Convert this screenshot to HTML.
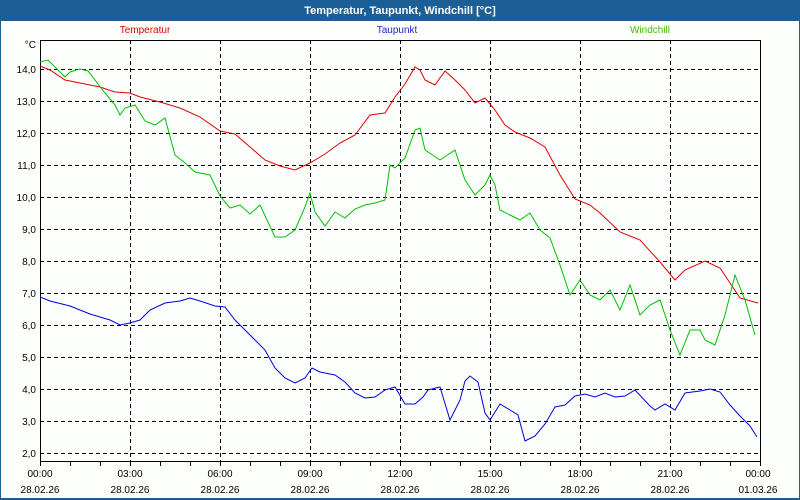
<!DOCTYPE html>
<html><head><meta charset="utf-8"><style>
body{margin:0;background:#fff}
svg{display:block;font-family:"Liberation Sans",sans-serif}
</style></head><body>
<svg width="800" height="500" xmlns="http://www.w3.org/2000/svg">
<rect x="0" y="0" width="800" height="500" fill="#1c5f97"/>
<rect x="1" y="21" width="798" height="477" fill="#fdfffd"/>
<text x="400" y="14" fill="#fff" font-size="11" font-weight="bold" text-anchor="middle">Temperatur, Taupunkt, Windchill [°C]</text>
<text x="145" y="33" fill="#e00000" font-size="10" text-anchor="middle">Temperatur</text>
<text x="397" y="33" fill="#2020d0" font-size="10" text-anchor="middle">Taupunkt</text>
<text x="650" y="33" fill="#40c000" font-size="10" text-anchor="middle">Windchill</text>
<text x="36" y="48" font-size="10" text-anchor="end">°C</text>
<g stroke="#000" stroke-dasharray="4,3" stroke-width="1">
<line x1="40" x2="760" y1="69.5" y2="69.5"/><line x1="40" x2="760" y1="101.5" y2="101.5"/>
<line x1="40" x2="760" y1="133.5" y2="133.5"/><line x1="40" x2="760" y1="165.5" y2="165.5"/>
<line x1="40" x2="760" y1="197.5" y2="197.5"/><line x1="40" x2="760" y1="229.5" y2="229.5"/>
<line x1="40" x2="760" y1="261.5" y2="261.5"/><line x1="40" x2="760" y1="293.5" y2="293.5"/>
<line x1="40" x2="760" y1="325.5" y2="325.5"/><line x1="40" x2="760" y1="357.5" y2="357.5"/>
<line x1="40" x2="760" y1="389.5" y2="389.5"/><line x1="40" x2="760" y1="421.5" y2="421.5"/>
<line x1="40" x2="760" y1="453.5" y2="453.5"/>
<line y1="40" y2="461" x1="130.5" x2="130.5"/><line y1="40" y2="461" x1="220.5" x2="220.5"/>
<line y1="40" y2="461" x1="310.5" x2="310.5"/><line y1="40" y2="461" x1="400.5" x2="400.5"/>
<line y1="40" y2="461" x1="490.5" x2="490.5"/><line y1="40" y2="461" x1="580.5" x2="580.5"/>
<line y1="40" y2="461" x1="670.5" x2="670.5"/>
</g>
<rect x="40.5" y="40.5" width="720" height="421" fill="none" stroke="#000"/>
<g stroke="#000"><path d="M70.5 461v5M100.5 461v5M130.5 461v5M160.5 461v5M190.5 461v5M220.5 461v5M250.5 461v5M280.5 461v5M310.5 461v5M340.5 461v5M370.5 461v5M400.5 461v5M430.5 461v5M460.5 461v5M490.5 461v5M520.5 461v5M550.5 461v5M580.5 461v5M610.5 461v5M640.5 461v5M670.5 461v5M700.5 461v5M730.5 461v5M760.5 461v5M40.5 461v5"/></g>
<g font-size="10" text-anchor="end">
<text x="36" y="73">14,0</text><text x="36" y="105">13,0</text><text x="36" y="137">12,0</text>
<text x="36" y="169">11,0</text><text x="36" y="201">10,0</text><text x="36" y="233">9,0</text>
<text x="36" y="265">8,0</text><text x="36" y="297">7,0</text><text x="36" y="329">6,0</text>
<text x="36" y="361">5,0</text><text x="36" y="393">4,0</text><text x="36" y="425">3,0</text>
<text x="36" y="457">2,0</text>
</g>
<g font-size="10" text-anchor="middle">
<text x="40" y="477">00:00</text><text x="40" y="493">28.02.26</text>
<text x="130" y="477">03:00</text><text x="130" y="493">28.02.26</text>
<text x="220" y="477">06:00</text><text x="220" y="493">28.02.26</text>
<text x="310" y="477">09:00</text><text x="310" y="493">28.02.26</text>
<text x="400" y="477">12:00</text><text x="400" y="493">28.02.26</text>
<text x="490" y="477">15:00</text><text x="490" y="493">28.02.26</text>
<text x="580" y="477">18:00</text><text x="580" y="493">28.02.26</text>
<text x="670" y="477">21:00</text><text x="670" y="493">28.02.26</text>
<text x="758" y="477">00:00</text><text x="758" y="493">01.03.26</text>
</g>
<polyline fill="none" stroke="#e00000" points="40,66 50,70 65,80 80,83 100,87 115,92 130,93 140,97 160,102 180,108 200,117 220,131 235,134 250,147 265,160 280,166 295,170 310,163 325,154 340,143 355,135 370,115 385,113 395,97 405,84 415,67 420,70 425,80 435,85 445,71 455,80 465,90 475,103 485,98 495,110 505,125 515,132 530,138 545,147 560,175 575,199 590,205 600,213 620,232 640,240 660,262 675,280 685,270 705,261 720,268 740,298 758,303"/>
<polyline fill="none" stroke="#00c000" points="40,62 48,60 55,67 65,77 70,72 80,69 88,71 95,80 105,93 115,105 120,115 125,108 135,105 145,121 155,125 165,118 175,155 185,163 195,172 210,175 220,196 230,208 240,205 250,214 260,205 275,237 285,237 295,230 305,207 310,193 315,212 325,226 335,212 345,218 355,209 365,205 375,203 385,200 390,165 395,168 405,158 415,130 420,128 425,150 440,160 455,150 465,180 475,195 485,185 490,175 495,185 500,210 510,215 520,220 530,213 540,230 550,238 560,265 570,295 580,280 590,295 600,300 610,290 620,310 630,285 640,315 650,305 660,300 670,330 680,355 690,330 700,330 705,340 715,345 725,315 735,275 745,300 755,335"/>
<polyline fill="none" stroke="#0000e0" points="40,297 50,301 70,306 90,314 110,320 120,325 130,323 140,320 150,310 165,303 180,301 190,298 200,301 215,306 225,307 235,320 245,330 255,340 265,350 275,368 285,378 295,383 305,378 312,368 320,372 335,375 345,382 355,393 365,398 375,397 385,390 395,387 405,404 415,404 423,397 428,390 440,387 450,420 460,400 465,381 470,376 478,382 485,413 490,420 500,404 510,410 518,415 525,441 535,436 545,424 555,407 565,405 575,396 585,394 595,397 605,393 615,397 625,396 635,390 650,406 655,410 665,404 675,410 685,393 700,391 710,389 720,392 730,405 740,416 750,426 757,437"/>
</svg>
</body></html>
